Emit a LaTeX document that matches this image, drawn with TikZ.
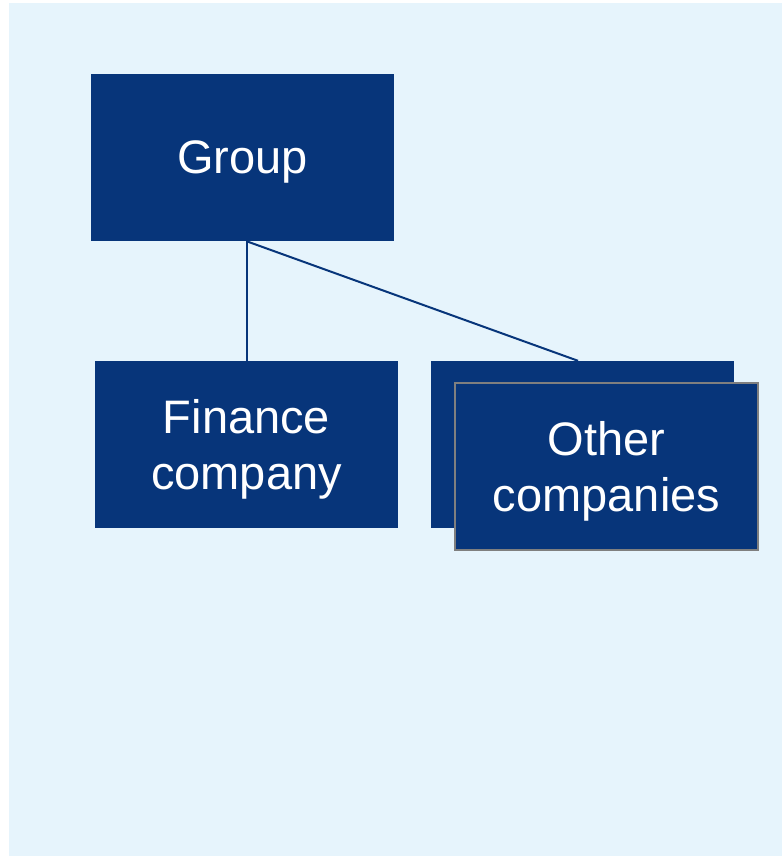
\documentclass[tikz,border=0pt]{standalone}
\usepackage{fontspec}
\setmainfont{Liberation Sans}
\definecolor{navy}{HTML}{07357A}
\definecolor{pale}{HTML}{E6F4FC}
\definecolor{rim}{HTML}{7F7F7F}
\begin{document}
\begin{tikzpicture}[x=1pt,y=-1pt,
  orgbox/.style={fill=navy, draw=none, minimum width=303pt, minimum height=167pt,
    inner sep=0pt},
  caption/.style={text=white, align=center, yshift=-4.5pt,
    font=\fontsize{47}{56}\selectfont},
  link/.style={draw=navy, line width=2pt}]
  \useasboundingbox (0,0) rectangle (782,857);
  \fill[pale] (9,3) rectangle (782,856);

  \node[orgbox, label={[caption]center:Group}] (grp) at (242.5,157.5) {};
  \node[orgbox, label={[caption]center:Finance\\company}] (fin) at (246.5,444.5) {};
  \node[orgbox] (back) at (582.5,444.5) {};
  \node[orgbox, draw=rim, line width=2pt,
        label={[caption]center:Other\\companies}] (other) at (606.5,466.5) {};

  \coordinate (split) at (fin.north |- grp.south);
  \coordinate (backtop) at ([xshift=-4.5pt]back.north);
  \draw[link] (split) -- (fin.north);
  \draw[link] (split) -- (backtop);
\end{tikzpicture}
\end{document}
